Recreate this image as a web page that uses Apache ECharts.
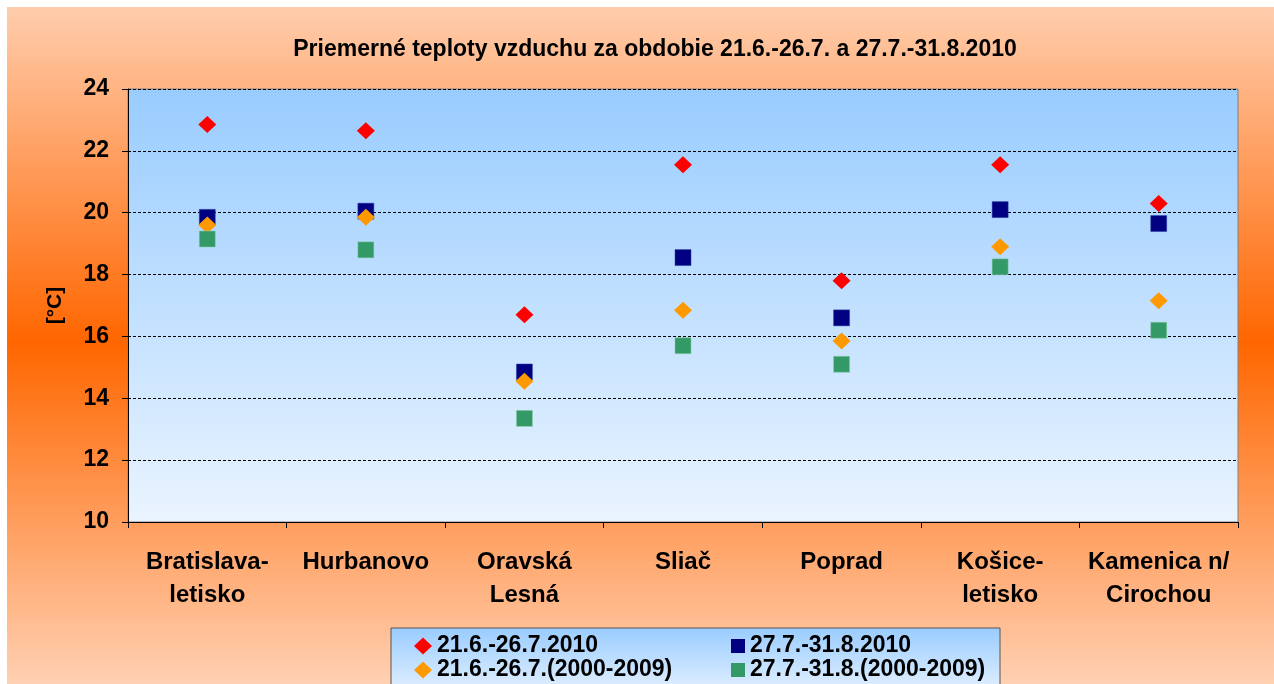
<!DOCTYPE html>
<html>
<head>
<meta charset="utf-8">
<script src="https://cdn.jsdelivr.net/npm/echarts@6/dist/echarts.min.js"></script>
<style>
  html, body { margin: 0; padding: 0; background: #fff; }
  #chart { width: 1274px; height: 684px; }
</style>
</head>
<body>
<div id="chart"></div>
<script>
// stations and mean temperatures [°C]
var stations = ['Bratislava-\nletisko', 'Hurbanovo', 'Oravská\nLesná', 'Sliač', 'Poprad', 'Košice-\nletisko', 'Kamenica n/\nCirochou'];
var seriesNames = ['21.6.-26.7.2010', '27.7.-31.8.2010', '21.6.-26.7.(2000-2009)', '27.7.-31.8.(2000-2009)'];
var jun2010 = [22.85, 22.65, 16.7, 21.55, 17.8, 21.55, 20.3];
var aug2010 = [19.85, 20.05, 14.85, 18.55, 16.6, 20.1, 19.65];
var junNorm = [19.6, 19.85, 14.55, 16.85, 15.85, 18.9, 17.15];
var augNorm = [19.15, 18.8, 13.35, 15.7, 15.1, 18.25, 16.2];

var font = 'Liberation Sans, Arial, sans-serif';

var chartDom = document.getElementById('chart');
var myChart = echarts.init(chartDom);

function blueFill() {
  return new echarts.graphic.LinearGradient(0, 0, 0, 1, [
    { offset: 0, color: '#99ccff' },
    { offset: 1, color: '#eaf4ff' }
  ]);
}

// one legend entry per component so the two columns line up like the original
function legendItem(name, icon, left, top, w, h) {
  return {
    data: [{ name: name, icon: icon }],
    left: left,
    top: top,
    padding: 0,
    itemWidth: w,
    itemHeight: h,
    itemGap: 0,
    itemStyle: { borderWidth: 0 },
    textStyle: { fontFamily: font, fontSize: 23, fontWeight: 'bold', color: '#000', lineHeight: 24 }
  };
}

var option = {
  animation: false,
  backgroundColor: new echarts.graphic.LinearGradient(0, 0, 0, 1, [
    { offset: 0, color: '#ffcfb0' },
    { offset: 0.5, color: '#ff6600' },
    { offset: 1, color: '#ffd0b2' }
  ]),
  title: {
    text: 'Priemerné teploty vzduchu za obdobie 21.6.-26.7. a 27.7.-31.8.2010',
    left: 650,
    top: 33,
    textAlign: 'center',
    textStyle: { fontFamily: font, fontSize: 23, fontWeight: 'bold', color: '#000' }
  },
  graphic: [
    { type: 'rect', z: 100, shape: { x: 0, y: 0, width: 1274, height: 7 }, style: { fill: '#fff' } },
    { type: 'rect', z: 100, shape: { x: 0, y: 0, width: 7, height: 684 }, style: { fill: '#fff' } },
    {
      type: 'rect', z: 1,
      shape: { x: 391, y: 628, width: 609, height: 70 },
      style: { fill: blueFill(), stroke: '#555', lineWidth: 1 }
    }
  ],
  legend: [
    legendItem(seriesNames[0], 'diamond', 414, 634, 18, 17),
    legendItem(seriesNames[2], 'diamond', 414, 658, 18, 17),
    legendItem(seriesNames[1], 'rect', 731, 634, 14, 14),
    legendItem(seriesNames[3], 'rect', 731, 658, 14, 14)
  ],
  grid: {
    left: 128,
    top: 89,
    right: 36,
    bottom: 162,
    show: true,
    backgroundColor: blueFill(),
    borderColor: '#808080',
    borderWidth: 1
  },
  xAxis: {
    type: 'category',
    data: stations,
    boundaryGap: true,
    axisLine: { lineStyle: { color: '#000', width: 1 } },
    axisTick: { show: true, length: 6, lineStyle: { color: '#000' } },
    axisLabel: {
      interval: 0,
      margin: 24,
      fontFamily: font,
      fontSize: 24,
      fontWeight: 'bold',
      color: '#000',
      lineHeight: 33
    }
  },
  yAxis: {
    type: 'value',
    min: 10,
    max: 24,
    interval: 2,
    name: '[°C]',
    nameLocation: 'middle',
    nameGap: 62,
    nameRotate: 90,
    nameTextStyle: { fontFamily: font, fontSize: 21, fontWeight: 'bold', color: '#000' },
    axisLine: { show: true, lineStyle: { color: '#000', width: 1 } },
    axisTick: { show: true, length: 6, lineStyle: { color: '#000' } },
    axisLabel: { margin: 19, fontFamily: font, fontSize: 23, fontWeight: 'bold', color: '#000' },
    splitLine: { show: true, lineStyle: { color: '#000', width: 1, type: [3, 2] } }
  },
  series: [
    {
      name: seriesNames[0], type: 'scatter', data: jun2010,
      symbol: 'diamond', symbolSize: [18, 17],
      itemStyle: { color: '#ff0000', opacity: 1 }
    },
    {
      name: seriesNames[1], type: 'scatter', data: aug2010,
      symbol: 'rect', symbolSize: 16,
      itemStyle: { color: '#000080', opacity: 1, borderColor: '#3344aa', borderWidth: 0.5 }
    },
    {
      name: seriesNames[2], type: 'scatter', data: junNorm,
      symbol: 'diamond', symbolSize: [18, 17],
      itemStyle: { color: '#ff9900', opacity: 1 }
    },
    {
      name: seriesNames[3], type: 'scatter', data: augNorm,
      symbol: 'rect', symbolSize: 16,
      itemStyle: { color: '#339966', opacity: 1, borderColor: '#88ccaa', borderWidth: 0.5 }
    }
  ]
};

option && myChart.setOption(option);
</script>
</body>
</html>
